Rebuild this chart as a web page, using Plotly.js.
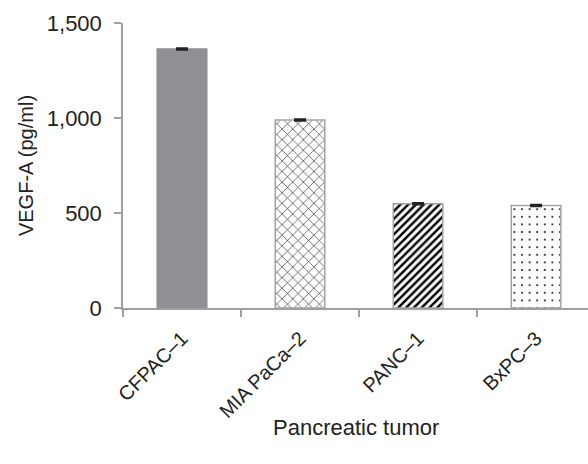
<!DOCTYPE html>
<html>
<head>
<meta charset="utf-8">
<script src="https://cdn.plot.ly/plotly-3.0.1.min.js"></script>
<style>html,body{margin:0;padding:0;background:#fff;}#chart{width:588px;height:464px;}</style>
</head>
<body>
<div id="chart"></div>
<script>
var categories = ["CFPAC\u20131", "MIA PaCa\u20132", "PANC\u20131", "BxPC\u20133"];
var vegfValues = [1363, 990, 549, 539];
var errorValues = [4, 4, 4, 4];
var yTickVals = [0, 500, 1000, 1500];
var yTickText = ["0", "500", "1,000", "1,500"];
var xTitle = "Pancreatic tumor";
var yTitle = "VEGF-A (pg/ml)";

var fills = ["#8f9094", "#ffffff", "#ffffff", "#ffffff"];
var borders = ["#8f9094", "#a3a3a3", "#a3a3a3", "#a3a3a3"];
var shapes = ["", "x", "/", "."];
var sizes = [8, 7.5, 5.5, 7.6];
var solidities = [0.3, 0.14, 0.45, 0.05];

var traces = categories.map(function (c, i) {
  return {
    type: "bar",
    x: [c],
    y: [vegfValues[i]],
    width: 0.42,
    marker: {
      color: fills[i],
      line: {color: borders[i], width: 1.5},
      pattern: {shape: shapes[i], fgcolor: "#000000", bgcolor: fills[i], size: sizes[i], solidity: solidities[i], fillmode: "replace"}
    },
    error_y: {type: "data", array: [errorValues[i]], visible: true, color: "#222222", thickness: 2, width: 6},
    hoverinfo: "none"
  };
});

var layout = {
  width: 588, height: 464,
  margin: {l: 123, r: 0, t: 23, b: 156},
  paper_bgcolor: "#ffffff", plot_bgcolor: "#ffffff",
  showlegend: false,
  barmode: "overlay",
  font: {family: "Liberation Sans, Arial, sans-serif", size: 21, color: "#222222"},
  xaxis: {
    type: "category",
    categoryorder: "array", categoryarray: categories,
    range: [-0.5, 3.44],
    showline: true, linecolor: "#a0a0a0", linewidth: 1.5,
    ticks: "outside", tickson: "boundaries", ticklen: 7, tickcolor: "#a0a0a0", tickwidth: 1.5,
    tickangle: -45, ticklabelstandoff: 9,
    tickfont: {size: 20, color: "#222222"},
    showgrid: false, zeroline: false
  },
  yaxis: {
    range: [0, 1500],
    tickvals: yTickVals, ticktext: yTickText,
    showline: true, linecolor: "#a0a0a0", linewidth: 1.5,
    ticks: "outside", ticklen: 7, tickcolor: "#a0a0a0", tickwidth: 1.5,
    ticklabelstandoff: 8,
    tickfont: {size: 22, color: "#222222"},
    showgrid: false, zeroline: false,
    title: {text: yTitle, font: {size: 20, color: "#222222"}, standoff: 8}
  },
  annotations: [{
    text: xTitle, xref: "paper", yref: "paper", x: 0.5, y: -0.42,
    xanchor: "center", yanchor: "middle", showarrow: false,
    font: {size: 22, color: "#222222"}
  }]
};

Plotly.newPlot("chart", traces, layout, {displayModeBar: false});
</script>
</body>
</html>
